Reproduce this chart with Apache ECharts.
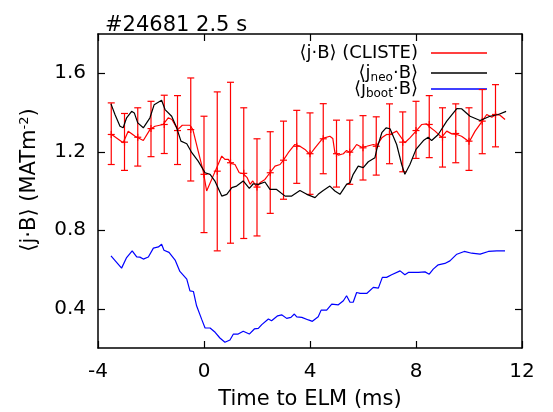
<!DOCTYPE html>
<html>
<head>
<meta charset="utf-8">
<script src="https://cdn.jsdelivr.net/npm/echarts@6/dist/echarts.min.js"></script>
<style>
  html, body { margin: 0; padding: 0; background: #fff; }
  #chart { width: 553px; height: 412px; }
</style>
</head>
<body>
<div id="chart"></div>
<script>
// <j.B> from CLISTE, fine trace [time (ms), MA T m^-2]
const cliste = [
  [-3.51, 1.291], [-3.05, 1.246], [-2.86, 1.305], [-2.60, 1.279], [-2.29, 1.257],
  [-2.04, 1.313], [-1.85, 1.330], [-1.54, 1.339], [-1.35, 1.373], [-1.21, 1.364],
  [-0.99, 1.313], [-0.82, 1.335], [-0.53, 1.335], [-0.42, 1.313], [-0.22, 1.203],
  [-0.03, 1.101], [0.10, 1.000], [0.42, 1.100], [0.67, 1.178], [0.79, 1.161],
  [0.92, 1.161], [1.01, 1.141], [1.17, 1.135], [1.33, 1.093], [1.48, 1.088],
  [1.63, 1.068], [1.74, 1.034], [1.84, 1.051], [1.99, 1.020], [2.11, 1.042],
  [2.30, 1.059], [2.49, 1.093], [2.68, 1.127], [2.87, 1.135], [2.99, 1.156],
  [3.18, 1.195], [3.43, 1.237], [3.62, 1.228], [3.81, 1.212], [4.00, 1.186],
  [4.19, 1.220], [4.48, 1.268], [4.75, 1.279], [4.86, 1.268], [4.94, 1.195],
  [5.07, 1.183], [5.26, 1.190], [5.38, 1.207], [5.51, 1.195], [5.63, 1.212],
  [5.76, 1.237], [5.95, 1.223], [6.14, 1.228], [6.39, 1.237], [6.52, 1.232],
  [6.71, 1.271], [6.89, 1.288], [7.02, 1.288], [7.27, 1.305], [7.58, 1.246],
  [7.77, 1.271], [8.00, 1.305], [8.22, 1.339], [8.40, 1.342], [8.53, 1.325],
  [8.72, 1.305], [8.97, 1.274], [9.16, 1.305], [9.35, 1.291], [9.54, 1.288],
  [9.72, 1.279], [10.01, 1.251], [10.23, 1.305], [10.48, 1.352], [10.67, 1.390],
  [10.86, 1.376], [11.02, 1.390], [11.17, 1.386], [11.36, 1.364]
];

// CLISTE error bars: [time, centre, low, high]
const clisteBars = [
  [-3.5, 1.288, 1.135, 1.449], [-3.0, 1.249, 1.105, 1.395], [-2.5, 1.274, 1.127, 1.424],
  [-2.0, 1.318, 1.175, 1.457], [-1.5, 1.339, 1.191, 1.488], [-1.0, 1.308, 1.135, 1.486],
  [-0.5, 1.313, 1.051, 1.576], [0.0, 1.085, 0.788, 1.381], [0.5, 1.101, 0.695, 1.505],
  [1.0, 1.144, 0.734, 1.554], [1.5, 1.090, 0.758, 1.424], [2.0, 1.020, 0.771, 1.266],
  [2.5, 1.093, 0.886, 1.302], [3.0, 1.157, 0.958, 1.356], [3.5, 1.228, 1.039, 1.411],
  [4.0, 1.190, 0.983, 1.398], [4.5, 1.266, 1.088, 1.445], [5.0, 1.190, 1.020, 1.361],
  [5.5, 1.198, 1.034, 1.361], [6.0, 1.220, 1.056, 1.384], [6.5, 1.228, 1.081, 1.378],
  [7.0, 1.288, 1.139, 1.444], [7.5, 1.249, 1.098, 1.403], [8.0, 1.308, 1.166, 1.457],
  [8.5, 1.339, 1.170, 1.486], [9.0, 1.274, 1.122, 1.424], [9.5, 1.293, 1.144, 1.444],
  [10.0, 1.254, 1.105, 1.424], [10.5, 1.356, 1.190, 1.517], [11.0, 1.390, 1.225, 1.542]
];

// <j_neo.B>
const jneo = [
  [-3.51, 1.444], [-3.36, 1.390], [-3.17, 1.330], [-3.05, 1.322], [-2.92, 1.373],
  [-2.73, 1.406], [-2.63, 1.398], [-2.50, 1.347], [-2.29, 1.322], [-2.04, 1.373],
  [-1.88, 1.440], [-1.60, 1.462], [-1.47, 1.415], [-1.22, 1.381], [-1.03, 1.322],
  [-0.87, 1.254], [-0.65, 1.241], [-0.46, 1.195], [-0.22, 1.152], [0.04, 1.093],
  [0.23, 1.085], [0.42, 1.049], [0.67, 0.974], [0.86, 0.983], [1.05, 1.017],
  [1.23, 1.025], [1.48, 1.051], [1.71, 1.013], [1.86, 1.037], [2.05, 1.034],
  [2.30, 1.046], [2.49, 1.008], [2.74, 1.008], [3.06, 0.974], [3.31, 0.974],
  [3.62, 1.003], [3.88, 0.983], [4.19, 0.966], [4.31, 0.983], [4.50, 1.003],
  [4.75, 1.025], [4.94, 1.000], [5.13, 0.983], [5.38, 1.034], [5.51, 1.042],
  [5.63, 1.085], [5.82, 1.127], [6.01, 1.119], [6.20, 1.149], [6.45, 1.170],
  [6.52, 1.212], [6.71, 1.297], [6.87, 1.322], [7.02, 1.317], [7.27, 1.237],
  [7.46, 1.135], [7.58, 1.085], [7.77, 1.135], [8.00, 1.212], [8.28, 1.257],
  [8.46, 1.274], [8.59, 1.257], [8.84, 1.288], [9.16, 1.356], [9.54, 1.420],
  [9.72, 1.419], [10.04, 1.381], [10.42, 1.359], [10.79, 1.381], [11.11, 1.390],
  [11.40, 1.406]
];

// <j_boot.B>
const jboot = [
  [-3.51, 0.669], [-3.11, 0.607], [-2.92, 0.661], [-2.71, 0.695], [-2.54, 0.664],
  [-2.42, 0.663], [-2.29, 0.653], [-2.10, 0.664], [-1.91, 0.709], [-1.72, 0.715],
  [-1.60, 0.729], [-1.51, 0.698], [-1.32, 0.687], [-1.09, 0.648], [-0.91, 0.590],
  [-0.65, 0.551], [-0.53, 0.491], [-0.40, 0.488], [-0.28, 0.415], [-0.09, 0.347],
  [0.04, 0.302], [0.23, 0.302], [0.42, 0.280], [0.60, 0.251], [0.79, 0.229],
  [0.98, 0.241], [1.11, 0.271], [1.29, 0.271], [1.48, 0.285], [1.71, 0.271],
  [1.90, 0.297], [2.05, 0.300], [2.18, 0.319], [2.43, 0.348], [2.55, 0.339],
  [2.78, 0.364], [2.93, 0.369], [3.12, 0.351], [3.28, 0.356], [3.41, 0.373],
  [3.50, 0.359], [3.69, 0.356], [3.94, 0.343], [4.09, 0.336], [4.31, 0.359],
  [4.42, 0.393], [4.63, 0.393], [4.82, 0.424], [5.07, 0.420], [5.26, 0.441],
  [5.38, 0.466], [5.51, 0.433], [5.63, 0.433], [5.76, 0.483], [5.89, 0.478],
  [6.14, 0.478], [6.39, 0.509], [6.58, 0.505], [6.73, 0.560], [6.89, 0.560],
  [7.08, 0.573], [7.40, 0.593], [7.58, 0.573], [7.71, 0.585], [8.09, 0.585],
  [8.34, 0.588], [8.50, 0.576], [8.65, 0.602], [8.84, 0.624], [9.09, 0.631],
  [9.28, 0.644], [9.54, 0.678], [9.82, 0.692], [10.10, 0.683], [10.42, 0.678],
  [10.73, 0.692], [11.05, 0.695], [11.36, 0.695]
];

const yTicks = [0.4, 0.8, 1.2, 1.6];
const legendNames = ['⟨j·B⟩ (CLISTE)', '⟨j{sub|neo}·B⟩', '⟨j{sub|boot}·B⟩'];
const legendColors = ['#ff0000', '#000000', '#0000ff'];

const font = 'DejaVu Sans';
const red = '#ff0000';

const chart = echarts.init(document.getElementById('chart'));

function errorBar(params, api) {
  const x = api.value(0);
  const c = api.coord([x, api.value(1)]);
  const lo = api.coord([x, api.value(2)]);
  const hi = api.coord([x, api.value(3)]);
  const cap = 3.5, m = 3.5;
  const st = { stroke: red, lineWidth: 1.2 };
  return {
    type: 'group',
    children: [
      { type: 'line', shape: { x1: lo[0], y1: lo[1], x2: hi[0], y2: hi[1] }, style: st },
      { type: 'line', shape: { x1: lo[0] - cap, y1: lo[1], x2: lo[0] + cap, y2: lo[1] }, style: st },
      { type: 'line', shape: { x1: hi[0] - cap, y1: hi[1], x2: hi[0] + cap, y2: hi[1] }, style: st },
      { type: 'line', shape: { x1: c[0] - m, y1: c[1], x2: c[0] + m, y2: c[1] }, style: st },
      { type: 'line', shape: { x1: c[0], y1: c[1] - m, x2: c[0], y2: c[1] + m }, style: st }
    ]
  };
}

const axisLineStyle = { color: '#000', width: 1.5 };
const tickStyle = { color: '#000', width: 1.2 };

const legendY = [53, 73, 89];
const legendGraphics = [];
legendNames.forEach((name, i) => {
  legendGraphics.push({
    type: 'text',
    x: 418, y: legendY[i],
    style: {
      text: name,
      fill: '#000',
      font: '18px "DejaVu Sans"',
      align: 'right', textAlign: 'right',
      verticalAlign: 'middle', textVerticalAlign: 'middle',
      rich: { sub: { fontSize: 12, fontFamily: font, padding: [9, 0, 0, 0] } }
    }
  });
  legendGraphics.push({
    type: 'line',
    shape: { x1: 431, y1: legendY[i], x2: 487, y2: legendY[i] },
    style: { stroke: legendColors[i], lineWidth: 1.3 }
  });
});

const option = {
  animation: false,
  backgroundColor: '#fff',
  title: {
    text: '#24681 2.5 s',
    left: 100, top: 10,
    textStyle: { fontFamily: font, fontSize: 21, fontWeight: 'normal', color: '#000' }
  },
  grid: { left: 98, right: 31, top: 34, bottom: 64, outerBoundsMode: 'none' },
  xAxis: [
    {
      type: 'value', min: -4, max: 12, interval: 4,
      name: 'Time to ELM (ms)', nameLocation: 'middle', nameGap: 41,
      nameTextStyle: { fontFamily: font, fontSize: 21, color: '#000' },
      axisLine: { onZero: false, lineStyle: axisLineStyle },
      axisTick: { inside: true, length: 7, lineStyle: tickStyle },
      axisLabel: { fontFamily: font, fontSize: 20, color: '#000', margin: 14 },
      splitLine: { show: false }
    },
    {
      type: 'value', min: -4, max: 12, interval: 4, position: 'top',
      axisLine: { onZero: false, lineStyle: axisLineStyle },
      axisTick: { inside: true, length: 7, lineStyle: tickStyle },
      axisLabel: { show: false },
      splitLine: { show: false }
    }
  ],
  yAxis: [
    {
      type: 'value', min: 0.2, max: 1.8,
      name: '⟨j·B⟩ (MATm{sup|-2})', nameLocation: 'middle', nameGap: 57,
      nameTextStyle: {
        fontFamily: font, fontSize: 21, color: '#000',
        padding: [0, 0, 0, 22],
        rich: { sup: { fontSize: 13, fontFamily: font, padding: [0, 0, 10, 0] } }
      },
      axisLine: { onZero: false, lineStyle: axisLineStyle },
      axisTick: { inside: true, length: 7, lineStyle: tickStyle, customValues: yTicks },
      axisLabel: {
        fontFamily: font, fontSize: 20, color: '#000', margin: 12,
        customValues: yTicks,
        formatter: v => v.toFixed(1)
      },
      splitLine: { show: false }
    },
    {
      type: 'value', min: 0.2, max: 1.8, position: 'right',
      axisLine: { onZero: false, lineStyle: axisLineStyle },
      axisTick: { inside: true, length: 7, lineStyle: tickStyle, customValues: yTicks },
      axisLabel: { show: false, customValues: yTicks },
      splitLine: { show: false }
    }
  ],
  graphic: legendGraphics,
  series: [
    {
      name: 'CLISTE bars',
      type: 'custom',
      renderItem: errorBar,
      encode: { x: 0, y: [1, 2, 3] },
      data: clisteBars,
      z: 2
    },
    {
      name: 'CLISTE',
      type: 'line',
      data: cliste,
      showSymbol: false,
      lineStyle: { color: red, width: 1.2 },
      z: 3
    },
    {
      name: 'jneo',
      type: 'line',
      data: jneo,
      showSymbol: false,
      lineStyle: { color: '#000', width: 1.2 },
      z: 4
    },
    {
      name: 'jboot',
      type: 'line',
      data: jboot,
      showSymbol: false,
      lineStyle: { color: '#0000ff', width: 1.2 },
      z: 4
    }
  ]
};

chart.setOption(option);
</script>
</body>
</html>
